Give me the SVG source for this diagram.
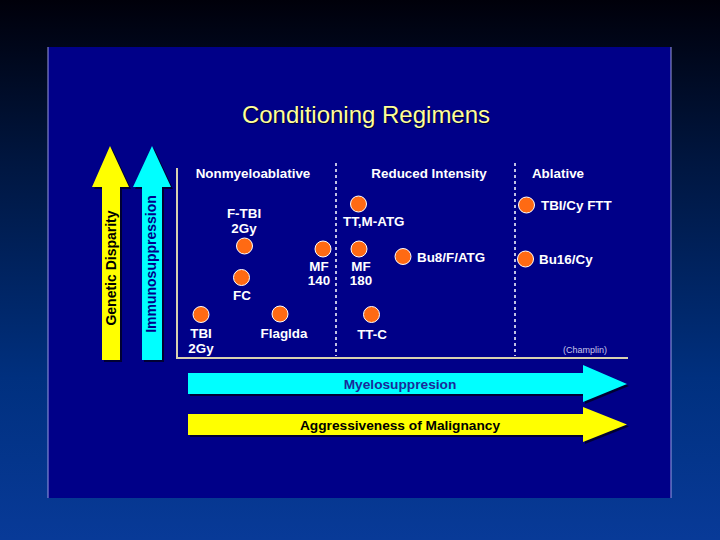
<svg xmlns="http://www.w3.org/2000/svg" width="720" height="540" viewBox="0 0 720 540">
<defs>
<linearGradient id="bg" x1="0" y1="0" x2="0" y2="1">
<stop offset="0" stop-color="#00000a"/>
<stop offset="0.3" stop-color="#001640"/>
<stop offset="0.7" stop-color="#00307f"/>
<stop offset="1" stop-color="#083a98"/>
</linearGradient>
<style>
.lbl{font-family:"Liberation Sans",Arial,sans-serif;font-weight:bold;font-size:13.4px;fill:#ffffff}
.big{font-size:13.7px}
.mid{text-anchor:middle}
.dot{fill:#ff6a13;stroke:#ffffff;stroke-width:1}
.div{stroke:#ffffff;stroke-width:1.5;stroke-dasharray:3,3}
.axis{stroke:#d8d0b0;stroke-width:2;fill:none}
.vt{font-family:"Liberation Sans",Arial,sans-serif;font-weight:bold;font-size:14px;text-anchor:middle}
.shadow{fill:#000033}
</style>
</defs>
<rect x="0" y="0" width="720" height="540" fill="url(#bg)"/>
<rect x="48" y="47" width="623" height="451" fill="#000088"/>
<line x1="48" y1="47" x2="48" y2="498" stroke="#9a9ae0" stroke-width="1"/>
<line x1="671" y1="47" x2="671" y2="498" stroke="#9a9ae0" stroke-width="1"/>
<text x="367" y="124" text-anchor="middle" font-family="'Liberation Sans',Arial,sans-serif" font-size="24" fill="#000033">Conditioning Regimens</text>
<text x="366" y="123" text-anchor="middle" font-family="'Liberation Sans',Arial,sans-serif" font-size="24" fill="#ffff99">Conditioning Regimens</text>

<g id="genetic-disparity">
<polygon class="shadow" points="104,362 104,189 94,189 112,148 131,189 122,189 122,362"/>
<polygon fill="#ffff00" points="102,360 102,187 92,187 110,146 129,187 120,187 120,360"/>
<text class="vt" fill="#000000" transform="translate(116,268) rotate(-90)">Genetic Disparity</text>
</g>
<g id="immunosuppression">
<polygon class="shadow" points="144,362 144,189 135,189 154,148 173,189 164,189 164,362"/>
<polygon fill="#00ffff" points="142,360 142,187 133,187 152,146 171,187 162,187 162,360"/>
<text class="vt" fill="#000088" transform="translate(156,264) rotate(-90)">Immunosuppression</text>
</g>

<g id="connectors">
<polyline class="axis" points="177,168 177,358 628,358"/>
<line class="div" x1="336" y1="163" x2="336" y2="356"/>
<line class="div" x1="515" y1="163" x2="515" y2="356"/>
</g>

<text class="lbl mid" x="253" y="178">Nonmyeloablative</text>
<text class="lbl mid" x="429" y="178">Reduced Intensity</text>
<text class="lbl mid" x="558" y="178">Ablative</text>

<g id="f-tbi"><circle class="dot" cx="244.5" cy="246" r="8"/><text class="lbl mid" x="244" y="218">F-TBI</text><text class="lbl mid" x="244" y="233">2Gy</text></g>
<g id="fc"><circle class="dot" cx="241.5" cy="277.5" r="8"/><text class="lbl mid" x="242" y="300">FC</text></g>
<g id="tbi-2gy"><circle class="dot" cx="201" cy="314.5" r="8"/><text class="lbl mid" x="201" y="338">TBI</text><text class="lbl mid" x="201" y="353">2Gy</text></g>
<g id="flaglda"><circle class="dot" cx="280" cy="314" r="8"/><text class="lbl mid" x="284" y="338">Flaglda</text></g>
<g id="mf140"><circle class="dot" cx="323" cy="249" r="8"/><text class="lbl mid" x="319" y="271">MF</text><text class="lbl mid" x="319" y="285">140</text></g>
<g id="mf180"><circle class="dot" cx="359" cy="249" r="8"/><text class="lbl mid" x="361" y="271">MF</text><text class="lbl mid" x="361" y="285">180</text></g>
<g id="tt-m-atg"><circle class="dot" cx="358.5" cy="204" r="8"/><text class="lbl" x="343" y="226">TT,M-ATG</text></g>
<g id="bu8-f-atg"><circle class="dot" cx="403" cy="256.5" r="8"/><text class="lbl" x="417" y="262">Bu8/F/ATG</text></g>
<g id="tt-c"><circle class="dot" cx="371.5" cy="314.5" r="8"/><text class="lbl mid" x="372" y="339">TT-C</text></g>
<g id="tbi-cy-ftt"><circle class="dot" cx="526.5" cy="205" r="8"/><text class="lbl" x="541" y="210">TBI/Cy FTT</text></g>
<g id="bu16-cy"><circle class="dot" cx="525.5" cy="259" r="8"/><text class="lbl" x="539" y="264">Bu16/Cy</text></g>
<text x="563" y="353" font-family="'Liberation Sans',Arial,sans-serif" font-size="9" fill="#c8c8e8">(Champlin)</text>

<g id="myelosuppresion">
<polygon class="shadow" points="190,375 585,375 585,367 629,386 585,404 585,396 190,396"/>
<polygon fill="#00ffff" points="188,373 583,373 583,365 627,384 583,402 583,394 188,394"/>
<text class="lbl big mid" x="400" y="388.5" style="fill:#1a2a9a">Myelosuppresion</text>
</g>
<g id="aggressiveness">
<polygon class="shadow" points="190,416 585,416 585,409 629,426.5 585,444 585,437 190,437"/>
<polygon fill="#ffff00" points="188,414 583,414 583,407 627,424.5 583,442 583,435 188,435"/>
<text class="lbl big mid" x="400" y="429.5" style="fill:#000000">Aggressiveness of Malignancy</text>
</g>
</svg>
